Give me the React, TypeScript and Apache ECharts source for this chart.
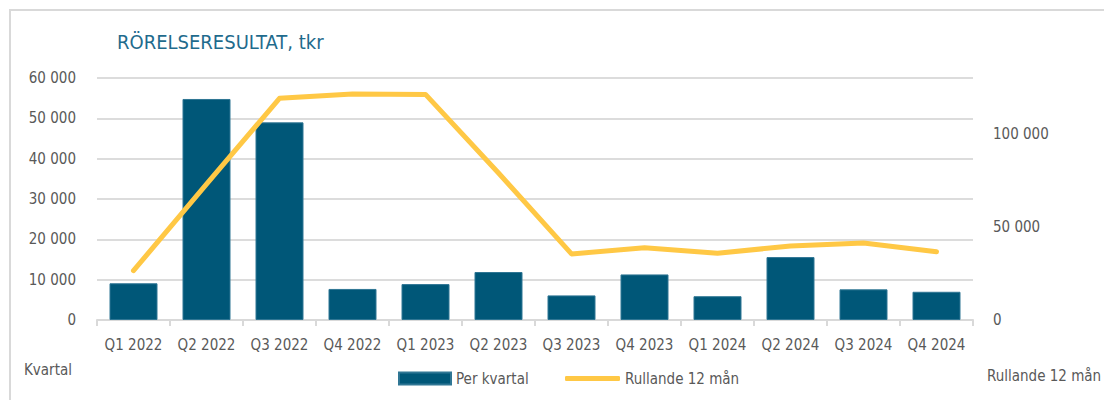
import React, { useEffect, useRef } from "react";
import * as echarts from "echarts";

const categories = ["Q1 2022", "Q2 2022", "Q3 2022", "Q4 2022", "Q1 2023", "Q2 2023", "Q3 2023", "Q4 2023", "Q1 2024", "Q2 2024", "Q3 2024", "Q4 2024"];
const perKvartal = [9100, 54800, 49000, 7700, 8900, 11900, 6100, 11300, 5900, 15600, 7600, 7000];
const rullande12 = [26500, 73000, 119100, 121400, 121200, 79000, 35500, 38800, 35800, 39800, 41400, 36700];
const leftTicks = { min: 0, max: 60000, interval: 10000 };
const rightTicks = { min: 0, max: 130000, interval: 50000 };

const FONT = "'Liberation Sans Narrow', 'DejaVu Sans Condensed', 'Noto Sans', sans-serif";
const GRAY = "#595959";
const FS = 15;

const fmt = (v: number) => String(v).replace(/\B(?=(\d{3})+(?!\d))/g, " ");

export default function App() {
  const ref = useRef<HTMLDivElement>(null);
  useEffect(() => {
    if (!ref.current) return;
    const chart = echarts.init(ref.current, undefined, { renderer: "svg" });
    chart.setOption({
      animation: false,
      backgroundColor: "#ffffff",
      textStyle: { fontFamily: FONT },
      title: {
        text: "RÖRELSERESULTAT, tkr",
        left: 112,
        top: 27,
        textStyle: { fontFamily: FONT, fontSize: 20, fontWeight: "normal", color: "#1f6b8d" },
      },
      grid: { left: 97, right: 131, top: 78, bottom: 80 },
      legend: [
        {
          left: 393,
          top: 366,
          itemWidth: 52,
          itemHeight: 12,
          textStyle: { fontFamily: FONT, fontSize: FS, color: GRAY },
          data: [{ name: "Per kvartal", icon: "rect" }],
        },
        {
          left: 560,
          top: 366,
          itemWidth: 55,
          itemHeight: 5,
          textStyle: { fontFamily: FONT, fontSize: FS, color: GRAY },
          data: [{ name: "Rullande 12 mån", icon: "roundRect" }],
        },
      ],
      xAxis: {
        type: "category",
        data: categories,
        axisLine: { lineStyle: { color: "#d9d9d9", width: 2 } },
        axisTick: { show: true, length: 6, lineStyle: { color: "#d9d9d9", width: 2 } },
        axisLabel: { color: GRAY, fontSize: FS, fontFamily: FONT, margin: 17, interval: 0 },
      },
      yAxis: [
        {
          type: "value",
          min: leftTicks.min,
          max: leftTicks.max,
          interval: leftTicks.interval,
          axisLine: { show: false },
          axisTick: { show: false },
          splitLine: { lineStyle: { color: "#dcdcdc", width: 2 } },
          axisLabel: { color: GRAY, fontSize: FS, fontFamily: FONT, margin: 21, formatter: (v: number) => fmt(v) },
        },
        {
          type: "value",
          min: rightTicks.min,
          max: rightTicks.max,
          interval: rightTicks.interval,
          axisLine: { show: false },
          axisTick: { show: false },
          splitLine: { show: false },
          axisLabel: {
            color: GRAY,
            fontSize: FS,
            fontFamily: FONT,
            margin: 20,
            showMaxLabel: false,
            formatter: (v: number) => (v % rightTicks.interval === 0 ? fmt(v) : ""),
          },
        },
      ],
      graphic: [
        {
          type: "rect",
          shape: { x: 10, y: 10, width: 1120, height: 420 },
          style: { fill: "none", stroke: "#d9d9d9", lineWidth: 2 },
          silent: true,
          z: -10,
        },
        {
          type: "text",
          left: 24,
          top: 362,
          style: { text: "Kvartal", fontFamily: FONT, fontSize: FS, fill: GRAY },
        },
        {
          type: "text",
          left: 987,
          top: 368,
          style: { text: "Rullande 12 mån", fontFamily: FONT, fontSize: FS, fill: GRAY },
        },
      ],
      series: [
        {
          name: "Per kvartal",
          type: "bar",
          data: perKvartal,
          yAxisIndex: 0,
          barWidth: 48,
          itemStyle: { color: "#005778", borderColor: "#2f7694", borderWidth: 1 },
        },
        {
          name: "Rullande 12 mån",
          type: "line",
          data: rullande12,
          yAxisIndex: 1,
          symbol: "none",
          smooth: false,
          lineStyle: { color: "#ffc845", width: 5, cap: "round", join: "round" },
          itemStyle: { color: "#ffc845" },
          z: 5,
        },
      ],
    });
    return () => chart.dispose();
  }, []);
  return <div ref={ref} style={{ position: "fixed", left: 0, top: 0, width: 1104, height: 400 }} />;
}
